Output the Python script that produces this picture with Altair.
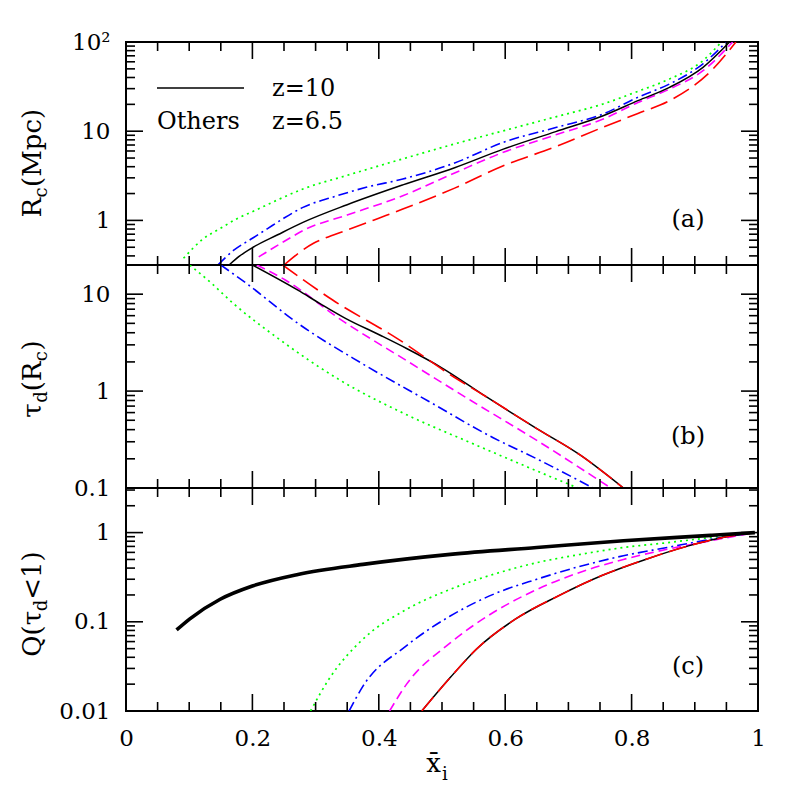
import math
import altair as alt
import pandas as pd

FONT = "DejaVu Serif"

# ---------------- data ----------------
# x axis (mean ionised fraction)
X_MAJOR = [0, 0.2, 0.4, 0.6, 0.8, 1.0]
X_MINOR = [0.05, 0.1, 0.15, 0.25, 0.3, 0.35, 0.45, 0.5, 0.55, 0.65, 0.7, 0.75, 0.85, 0.9, 0.95]

# panel (a): R_c (Mpc)
A_Y_DOMAIN = [0.3162, 100]
A_Y_MAJOR = [1, 10, 100]
A_Y_MINOR = [0.4, 0.5, 0.6, 0.7, 0.8, 0.9, 2, 3, 4, 5, 6, 7, 8, 9, 20, 30, 40, 50, 60, 70, 80, 90]
A_GREEN_X = [0.091, 0.122, 0.149, 0.175, 0.204, 0.24, 0.28, 0.35, 0.438, 0.52, 0.597, 0.68, 0.755, 0.81, 0.86, 0.913, 0.942]
A_GREEN_Y = [0.376, 0.62, 0.81, 1.04, 1.29, 1.7, 2.25, 3.2, 4.9, 7.2, 10.1, 14.5, 20.2, 28, 38.5, 62, 100]
A_BLUE_X = [0.146, 0.17, 0.2, 0.224, 0.248, 0.28, 0.33, 0.38, 0.438, 0.52, 0.597, 0.68, 0.755, 0.81, 0.86, 0.913, 0.95]
A_BLUE_Y = [0.32, 0.46, 0.63, 0.81, 1.04, 1.40, 1.85, 2.35, 2.91, 4.4, 7.5, 11, 15.6, 24, 33.8, 57, 100]
A_BLACK_X = [0.163, 0.18, 0.201, 0.24, 0.28, 0.35, 0.438, 0.52, 0.597, 0.68, 0.755, 0.81, 0.86, 0.913, 0.955]
A_BLACK_Y = [0.3162, 0.40, 0.50, 0.69, 0.95, 1.5, 2.5, 3.9, 6.3, 9.9, 14.9, 22, 31, 52, 100]
A_MAGENTA_X = [0.21, 0.222, 0.25, 0.285, 0.35, 0.438, 0.52, 0.597, 0.68, 0.755, 0.81, 0.86, 0.913, 0.96]
A_MAGENTA_Y = [0.39, 0.44, 0.58, 0.80, 1.15, 1.89, 3.4, 5.8, 9.1, 13.7, 21, 29.7, 47.7, 100]
A_RED_X = [0.25, 0.275, 0.296, 0.312, 0.35, 0.4, 0.438, 0.52, 0.597, 0.68, 0.755, 0.81, 0.86, 0.929, 0.965]
A_RED_Y = [0.3162, 0.44, 0.55, 0.62, 0.78, 1.06, 1.34, 2.3, 4.1, 6.7, 11.1, 15.8, 22, 50, 100]

# panel (b): tau_d(R_c)
B_Y_DOMAIN = [0.1, 20]
B_Y_MAJOR = [0.1, 1, 10]
B_Y_MINOR = [0.2, 0.3, 0.4, 0.5, 0.6, 0.7, 0.8, 0.9, 2, 3, 4, 5, 6, 7, 8, 9]
B_GREEN_X = [0.101, 0.135, 0.170, 0.238, 0.341, 0.444, 0.547, 0.650, 0.715]
B_GREEN_Y = [20, 13.0, 8.0, 3.6, 1.27, 0.57, 0.29, 0.15, 0.1]
B_BLUE_X = [0.15, 0.190, 0.272, 0.375, 0.478, 0.581, 0.650, 0.739]
B_BLUE_Y = [20, 13, 5.0, 1.9, 0.79, 0.33, 0.20, 0.1]
B_MAGENTA_X = [0.207, 0.252, 0.341, 0.444, 0.547, 0.650, 0.767]
B_MAGENTA_Y = [20, 14, 5.4, 2.06, 0.79, 0.31, 0.1]
B_BLACK_X = [0.2, 0.272, 0.307, 0.348, 0.403, 0.444, 0.499, 0.568, 0.650, 0.719, 0.787]
B_BLACK_Y = [20, 11.0, 8.0, 5.6, 3.75, 2.75, 1.75, 0.89, 0.41, 0.218, 0.1]
B_RED_X = [0.248, 0.327, 0.430, 0.520, 0.568, 0.650, 0.719, 0.787]
B_RED_Y = [20, 8.7, 3.46, 1.38, 0.89, 0.41, 0.218, 0.1]

# panel (c): Q(tau_d < 1)
C_Y_DOMAIN = [0.01, 3.162]
C_Y_MAJOR = [0.01, 0.1, 1]
C_Y_MINOR = [0.02, 0.03, 0.04, 0.05, 0.06, 0.07, 0.08, 0.09, 0.2, 0.3, 0.4, 0.5, 0.6, 0.7, 0.8, 0.9, 2, 3]
C_THICK_X = [0.080, 0.101, 0.149, 0.200, 0.272, 0.375, 0.513, 0.650, 0.787, 0.925, 0.995]
C_THICK_Y = [0.081, 0.108, 0.179, 0.252, 0.34, 0.44, 0.57, 0.68, 0.81, 0.93, 1.0]
C_GREEN_X = [0.292, 0.321, 0.375, 0.444, 0.513, 0.581, 0.650, 0.719, 0.787, 0.856, 0.925, 0.995]
C_GREEN_Y = [0.01, 0.0227, 0.064, 0.138, 0.231, 0.34, 0.46, 0.57, 0.68, 0.77, 0.88, 1.0]
C_BLUE_X = [0.353, 0.375, 0.444, 0.513, 0.581, 0.650, 0.719, 0.787, 0.856, 0.925, 0.995]
C_BLUE_Y = [0.01, 0.019, 0.054, 0.116, 0.203, 0.30, 0.42, 0.55, 0.68, 0.84, 1.0]
C_MAGENTA_X = [0.417, 0.444, 0.513, 0.581, 0.650, 0.719, 0.787, 0.856, 0.925, 0.995]
C_MAGENTA_Y = [0.01, 0.020, 0.058, 0.127, 0.23, 0.36, 0.50, 0.65, 0.81, 1.0]
C_BLACK_X = [0.468, 0.513, 0.554, 0.616, 0.684, 0.753, 0.822, 0.890, 0.959, 0.995]
C_BLACK_Y = [0.01, 0.0237, 0.049, 0.107, 0.195, 0.33, 0.50, 0.71, 0.92, 1.0]
C_RED_X = C_BLACK_X
C_RED_Y = C_BLACK_Y

# ---------------- styling ----------------
W, H = 632, 223
MAJ, MIN = 17, 9
TICK_W = 1.6
STYLE = {
    "green": {"color": "#00ff00", "strokeDash": [2, 4], "strokeWidth": 1.7},
    "blue": {"color": "#0000ff", "strokeDash": [10, 4, 2, 4], "strokeWidth": 1.6},
    "magenta": {"color": "#ff00ff", "strokeDash": [9, 5], "strokeWidth": 1.6},
    "black": {"color": "black", "strokeWidth": 1.5},
    "red": {"color": "#ff0000", "strokeDash": [18, 7], "strokeWidth": 1.6},
    "thick": {"color": "black", "strokeWidth": 3.6},
}
CW = {"R": 0.77, "c": 0.59, " ": 0.32, "\u00a0": 0.32, "(": 0.39, ")": 0.39, "M": 1.0, "p": 0.64,
      "τ": 0.57, "d": 0.64, "Q": 0.79, "<": 0.84, "1": 0.64}
ONE = pd.DataFrame({"k": [0]})
TSIZE, SSIZE = 26, 18


def sdf(xs, ys):
    return pd.DataFrame({"x": xs, "y": ys})


def text(t, x, y, size=24, **kw):
    return alt.Chart(ONE).mark_text(text=t, font=FONT, fontSize=size, color="black", **kw).encode(
        x=alt.value(x), y=alt.value(y))


def ytitle(pieces, x0, yc):
    widths = [sum(CW.get(ch, 0.6) for ch in t) * s for t, s, _ in pieces]
    pos = yc + sum(widths) / 2
    out = []
    for (t, s, sub), w in zip(pieces, widths):
        out.append(text(t, x0, pos, size=s, angle=270, align="left", baseline="alphabetic",
                        dy=6 if sub else 0))
        pos -= w
    return out


def ticks(xs, ydom, ymaj, ymin):
    out = []
    # y ticks: drawn on a linear scale of log10(value), equivalent to the log axis
    lys = alt.Scale(type="linear", domain=[math.log10(ydom[0]), math.log10(ydom[1])], nice=False, zero=False)
    for vals, size in ((ymaj, MAJ), (ymin, MIN)):
        d = pd.DataFrame({"v": [float(v) for v in vals]})
        for x1, x2 in ((0, size), (W - size, W)):
            out.append(alt.Chart(d).transform_calculate(ly="log(datum.v) / LN10").mark_rule(
                color="black", strokeWidth=TICK_W).encode(
                y=alt.Y("ly:Q", scale=lys, axis=None), y2="ly:Q",
                x=alt.value(x1), x2=alt.value(x2)))
    # x ticks: segments from the bottom and top frame
    for vals, size in ((X_MAJOR, MAJ), (X_MINOR, MIN)):
        d = pd.DataFrame({"v": vals})
        for y1, y2 in ((H - size, H), (0, size)):
            out.append(alt.Chart(d).mark_rule(color="black", strokeWidth=TICK_W).encode(
                x=alt.X("v:Q", scale=xs, axis=None), x2="v:Q",
                y=alt.value(y1), y2=alt.value(y2)))
    return out


def panel(series, ydom, ymaj, ymin, annotations, xlabels=False, ylabel_expr=None):
    xs = alt.Scale(domain=[0, 1], nice=False, zero=False)
    ys = alt.Scale(type="log", domain=ydom, nice=False)
    allx, ally = [], []
    for _, xv, yv in series:
        allx += xv
        ally += yv

    yl = dict(orient="left", values=ymaj, ticks=False, domain=False, grid=False, title=None,
              labels=True, format="~g", labelPadding=16, labelFlush=False)
    if ylabel_expr:
        yl["labelExpr"] = ylabel_expr
    if xlabels:
        xax = alt.Axis(orient="bottom", values=X_MAJOR, ticks=False, domain=False, grid=False,
                       title=None, labels=True, labelFlush=False, labelPadding=16, format="~g")
    else:
        xax = None
    layers = [alt.Chart(sdf(allx, ally)).mark_point(opacity=0).encode(
        x=alt.X("x:Q", scale=xs, axis=xax), y=alt.Y("y:Q", scale=ys, axis=alt.Axis(**yl)))]
    for name, xv, yv in series:
        layers.append(alt.Chart(sdf(xv, yv)).mark_line(clip=True, interpolate="monotone", **STYLE[name]).encode(
            x=alt.X("x:Q", scale=xs, axis=None), y=alt.Y("y:Q", scale=ys, axis=None)))
    layers += ticks(xs, ydom, ymaj, ymin)
    layers += annotations
    return (alt.layer(*layers)
            .resolve_scale(y="independent")
            .resolve_axis(x="independent", y="independent")
            .properties(width=W, height=H))


TX = -85
pa = panel(
    [("green", A_GREEN_X, A_GREEN_Y), ("blue", A_BLUE_X, A_BLUE_Y), ("magenta", A_MAGENTA_X, A_MAGENTA_Y),
     ("black", A_BLACK_X, A_BLACK_Y), ("red", A_RED_X, A_RED_Y)],
    A_Y_DOMAIN, A_Y_MAJOR, A_Y_MINOR,
    [alt.Chart(ONE).mark_rule(color="black", strokeWidth=1.6).encode(
        x=alt.value(31), x2=alt.value(118), y=alt.value(46)),
     text("z=10", 146, 47, align="left", baseline="middle"),
     text("Others", 31, 80, align="left", baseline="middle"),
     text("z=6.5", 146, 80, align="left", baseline="middle"),
     text("(a)", 562, 178, align="center", baseline="middle")]
    + ytitle([("R", TSIZE, False), ("c", SSIZE, True), ("\u00a0(Mpc)", TSIZE, False)], TX, 117),
    ylabel_expr="datum.value >= 99 ? '10²' : datum.label",
)
pb = panel(
    [("green", B_GREEN_X, B_GREEN_Y), ("blue", B_BLUE_X, B_BLUE_Y), ("magenta", B_MAGENTA_X, B_MAGENTA_Y),
     ("black", B_BLACK_X, B_BLACK_Y), ("red", B_RED_X, B_RED_Y)],
    B_Y_DOMAIN, B_Y_MAJOR, B_Y_MINOR,
    [text("(b)", 562, 172, align="center", baseline="middle")]
    + ytitle([("τ", TSIZE, False), ("d", SSIZE, True), ("(R", TSIZE, False), ("c", SSIZE, True),
              (")", TSIZE, False)], TX, 114),
)
pc = panel(
    [("green", C_GREEN_X, C_GREEN_Y), ("blue", C_BLUE_X, C_BLUE_Y), ("magenta", C_MAGENTA_X, C_MAGENTA_Y),
     ("black", C_BLACK_X, C_BLACK_Y), ("red", C_RED_X, C_RED_Y), ("thick", C_THICK_X, C_THICK_Y)],
    C_Y_DOMAIN, C_Y_MAJOR, C_Y_MINOR,
    [text("(c)", 562, 179, align="center", baseline="middle"),
     text("x̄", 315, 284, size=26, align="right", baseline="alphabetic"),
     text("i", 316, 292, size=18, align="left", baseline="alphabetic")]
    + ytitle([("Q(τ", TSIZE, False), ("d", SSIZE, True), ("<1)", TSIZE, False)], TX, 116),
    xlabels=True,
)

chart = alt.vconcat(pa, pb, pc, spacing=0, bounds="flush").properties(
    padding={"left": 10, "top": 22, "right": 10, "bottom": 10}
).configure_view(stroke="black", strokeWidth=2).configure_axis(
    labelFont=FONT, labelFontSize=23, labelColor="black", titleFont=FONT, titleFontSize=25,
    titleColor="black", titleFontWeight="normal",
)

chart.save("out.html", embed_options={"renderer": "svg", "actions": False})
